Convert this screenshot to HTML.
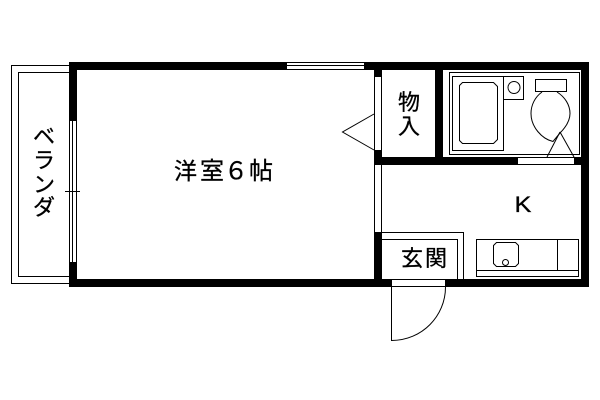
<!DOCTYPE html>
<html lang="ja">
<head>
<meta charset="utf-8">
<style>
html,body{margin:0;padding:0;background:#fff;}
svg{display:block;}
text{font-family:"Liberation Sans","Noto Sans CJK JP",sans-serif;fill:#000;stroke:#000;stroke-width:0.3;}
</style>
</head>
<body>
<svg width="600" height="400" viewBox="0 0 600 400" xmlns="http://www.w3.org/2000/svg">
<rect width="600" height="400" fill="#fff"/>
<g shape-rendering="crispEdges" fill="#000">
  <!-- balcony -->
  <rect x="11" y="65" width="58" height="1"/>
  <rect x="11" y="283" width="58" height="1"/>
  <rect x="11" y="65" width="1" height="219"/>
  <rect x="18" y="72" width="51" height="1"/>
  <rect x="18" y="276" width="51" height="1"/>
  <rect x="18" y="72" width="1" height="205"/>
  <!-- outer walls -->
  <rect x="69" y="62" width="520" height="8"/>
  <rect x="69" y="279" width="520" height="8"/>
  <rect x="69" y="62" width="8" height="225"/>
  <rect x="581" y="62" width="8" height="225"/>
  <!-- interior walls -->
  <rect x="374" y="70" width="8" height="217"/>
  <rect x="374" y="157" width="207" height="8"/>
  <rect x="435" y="70" width="8" height="90"/>
</g>
<g shape-rendering="crispEdges">
  <!-- top window -->
  <rect x="287" y="63" width="77" height="2" fill="#fff"/>
  <rect x="287" y="66" width="77" height="3" fill="#fff"/>
  <!-- left window -->
  <rect x="70" y="121" width="2" height="141" fill="#fff"/>
  <rect x="73" y="121" width="3" height="141" fill="#fff"/>
  <rect x="65" y="191" width="15" height="1" fill="#000"/>
  <!-- closet door opening -->
  <rect x="375" y="77" width="6" height="73" fill="#fff"/>
  <!-- kitchen side opening -->
  <rect x="375" y="165" width="6" height="67" fill="#fff"/>
  <!-- bath door slot -->
  <rect x="518" y="158" width="56" height="6" fill="#fff"/>
  <!-- entrance opening -->
  <rect x="392" y="280" width="53" height="6" fill="#fff"/>
</g>
<g shape-rendering="crispEdges" fill="#000">
  <!-- entrance step lines -->
  <rect x="382" y="232" width="82" height="1"/>
  <rect x="463" y="232" width="1" height="47"/>
  <rect x="382" y="239" width="76" height="1"/>
  <rect x="457" y="239" width="1" height="40"/>
  <!-- bath -->
  <rect x="449" y="72" width="131" height="1"/>
  <rect x="449" y="154" width="131" height="1"/>
  <rect x="449" y="72" width="1" height="83"/>
  <rect x="579" y="72" width="1" height="83"/>
  <rect x="452" y="76" width="52" height="1"/>
  <rect x="452" y="150" width="52" height="1"/>
  <rect x="452" y="76" width="1" height="75"/>
  <rect x="503" y="76" width="1" height="75"/>
  <rect x="503" y="76" width="21" height="1"/>
  <rect x="503" y="99" width="21" height="1"/>
  <rect x="523" y="76" width="1" height="24"/>
  <rect x="535" y="79" width="32" height="1"/>
  <rect x="535" y="91" width="32" height="1"/>
  <rect x="535" y="79" width="1" height="13"/>
  <rect x="566" y="79" width="1" height="13"/>
  <!-- counter -->
  <rect x="476" y="239" width="103" height="1"/>
  <rect x="476" y="276" width="103" height="1"/>
  <rect x="476" y="270" width="103" height="1"/>
  <rect x="476" y="239" width="1" height="38"/>
  <rect x="578" y="239" width="1" height="38"/>
  <rect x="557" y="239" width="1" height="31"/>
  <!-- door jamb -->
  <rect x="391" y="287" width="1" height="54"/>
</g>
<g fill="none" stroke="#000" stroke-width="1">
  <path d="M374 114L342.5 132L374 150"/>
  <path d="M459.5 85.5L462.5 82.5H493.5L497.5 86.5V139.5L493.5 143.5H462.5L459.5 140.5Z"/>
  <circle cx="514" cy="87.5" r="6"/>
  <path d="M542 92C535 97 531 105 531 113.5C531 127 542 139 553 141.5L560 133C566 127 570 120 570 113.5C570 105 565 97 557 92"/>
  <path d="M560 132L547 157M560 132L574 157"/>
  <path d="M493.5 245.5L496.5 242.5H515.5L518.5 245.5V263.5L515.5 266.5H496.5L493.5 263.5Z"/>
  <circle cx="505.5" cy="262.5" r="3"/>
  <path d="M445.5 287C445.5 316 422 340.5 391.5 340.5"/>
</g>
<text x="174" y="179" font-size="23">洋</text>
<text x="200" y="179" font-size="24">室</text>
<text x="224" y="179" font-size="24">６</text>
<text x="249" y="179" font-size="24">帖</text>
<text x="398" y="110" font-size="22">物</text>
<text x="398" y="134" font-size="22">入</text>
<text x="401" y="266" font-size="22">玄</text>
<text x="425" y="266" font-size="22">関</text>
<text transform="translate(514.5 212) scale(1.15 1)" font-size="22">K</text>
<text x="33" y="144" font-size="22">ベ</text>
<text x="33" y="168" font-size="22">ラ</text>
<text x="33" y="192" font-size="22">ン</text>
<text x="33" y="215" font-size="22">ダ</text>
</svg>
</body>
</html>
